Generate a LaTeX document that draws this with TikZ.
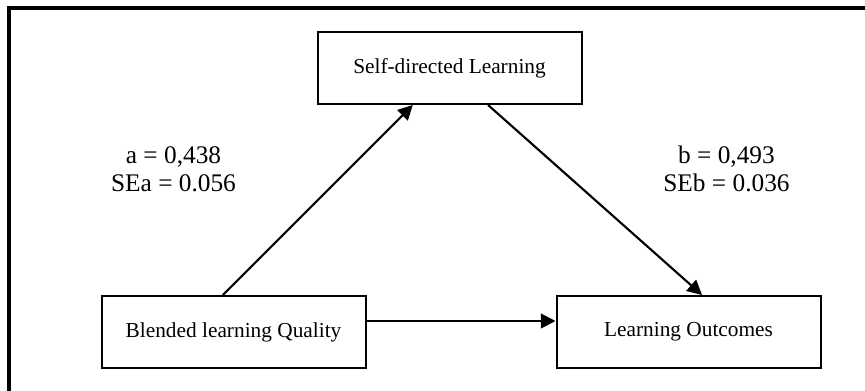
\documentclass[tikz,border=0pt]{standalone}
\usepackage{fontspec}
\setmainfont{Liberation Serif}
\usetikzlibrary{positioning, calc, arrows.meta}
\tikzstyle{Box} = [
draw,
line width=1.5pt,
minimum width=198pt, minimum height=54pt,
inner sep=0pt,
font=\fontsize{16}{19}\selectfont]
\tikzstyle{Arrow} = [
line width=1.6pt,
-{Triangle[length=11pt, width=11pt]}]
\tikzstyle{Coef} = [align=center, inner sep=0pt,
font=\fontsize{19}{21}\selectfont]

\begin{document}
\begin{tikzpicture}[x=0.75pt, y=-0.75pt]
    \useasboundingbox (0,0) rectangle (865,390);
    % outer frame, only its top and left edges are in view
    \draw[line width=2.4pt] (9,400) -- (9,8) -- (870,8);
    \node (1) [Box] at (233.5,332) {Blended learning Quality};
    \node (2) [Box] at (449.5,68) {Self-directed Learning};
    \node (3) [Box] at (688.5,332) {Learning Outcomes};
    \node (4) [Coef] at (173.5,169) {a = 0,438\\SEa = 0.056};
    \node (5) [Coef] at (726.5,169) {b = 0,493\\SEb = 0.036};
    \draw[Arrow] ($(1.north west)!0.46!(1.north east)$)
        -- ($(2.south west)!0.362!(2.south east)$);
    \draw[Arrow] ($(2.south west)!0.645!(2.south east)$)
        -- ($(3.north west)!0.551!(3.north east)$);
    \draw[Arrow] ([yshift=8.25pt]1.east) -- ([yshift=8.25pt]3.west);
\end{tikzpicture}
\end{document}
